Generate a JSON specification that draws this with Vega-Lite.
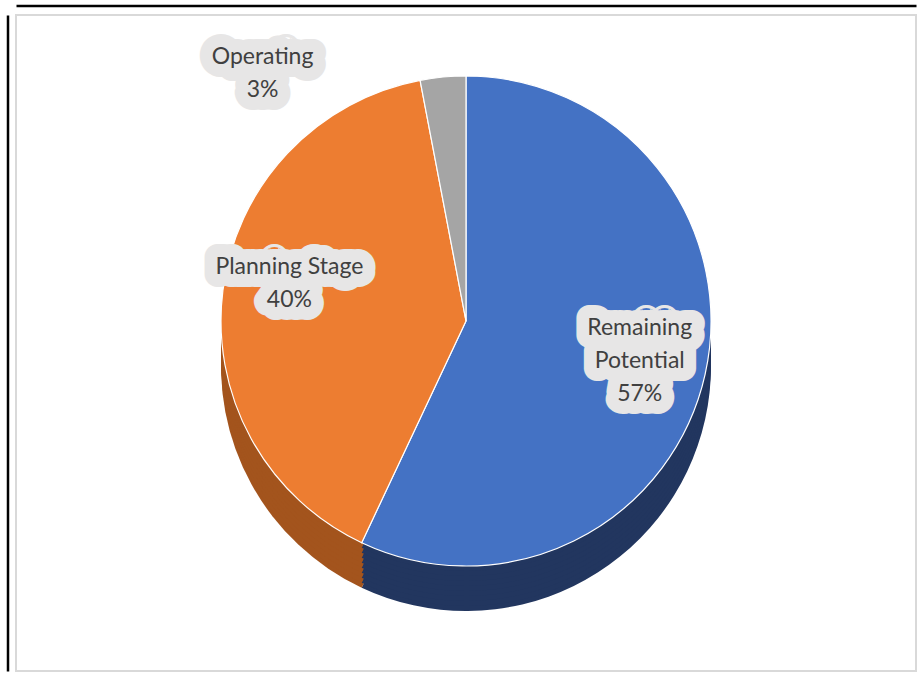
{
  "$schema": "https://vega.github.io/schema/vega-lite/v6.json",
  "autosize": "none",
  "width": 900,
  "height": 656,
  "padding": {"left": 16, "top": 15, "right": 1, "bottom": 7},
  "background": "white",
  "config": {"view": {"stroke": "#d9d9d9", "strokeWidth": 2}},
  "data": {"values": [
    {"status": "Remaining Potential", "share": 57, "label": "Remaining\nPotential\n57%"},
    {"status": "Planning Stage", "share": 40, "label": "Planning Stage\n40%"},
    {"status": "Operating", "share": 3, "label": "Operating\n3%"}
  ]},
  "encoding": {
    "theta": {"field": "share", "type": "quantitative", "stack": true},
    "order": {"field": "share", "sort": "descending"}
  },
  "layer": [
    {"mark": {"type": "point", "opacity": 0},
     "encoding": {"theta": null, "order": null,
       "x": {"field": "share", "type": "quantitative", "axis": {"orient": "top", "offset": 9.5, "domainColor": "black", "domainWidth": 2.5, "ticks": false, "labels": false, "grid": false, "title": null}},
       "y": {"field": "share", "type": "quantitative", "axis": {"orient": "left", "offset": 8.5, "domainColor": "black", "domainWidth": 2.5, "ticks": false, "labels": false, "grid": false, "title": null}}}},
    {"mark": {"type": "arc", "outerRadius": 245, "yOffset": 23}, "encoding": {"fill": {"field": "status", "type": "nominal", "legend": null, "scale": {"domain": ["Remaining Potential", "Planning Stage", "Operating"], "range": ["#22365f", "#a3541d", "#6f6f6f"]}}}},
    {"mark": {"type": "arc", "outerRadius": 245, "yOffset": 18}, "encoding": {"fill": {"field": "status", "type": "nominal", "legend": null}}},
    {"mark": {"type": "arc", "outerRadius": 245, "yOffset": 13}, "encoding": {"fill": {"field": "status", "type": "nominal", "legend": null}}},
    {"mark": {"type": "arc", "outerRadius": 245, "yOffset": 8}, "encoding": {"fill": {"field": "status", "type": "nominal", "legend": null}}},
    {"mark": {"type": "arc", "outerRadius": 245, "yOffset": 3}, "encoding": {"fill": {"field": "status", "type": "nominal", "legend": null}}},
    {"mark": {"type": "arc", "outerRadius": 245, "yOffset": -2}, "encoding": {"fill": {"field": "status", "type": "nominal", "legend": null}}},
    {"mark": {"type": "arc", "outerRadius": 245, "yOffset": -7}, "encoding": {"fill": {"field": "status", "type": "nominal", "legend": null}}},
    {"mark": {"type": "arc", "outerRadius": 245, "yOffset": -12}, "encoding": {"fill": {"field": "status", "type": "nominal", "legend": null}}},
    {"mark": {"type": "arc", "outerRadius": 245, "yOffset": -17}, "encoding": {"fill": {"field": "status", "type": "nominal", "legend": null}}},
    {"mark": {"type": "arc", "outerRadius": 245, "yOffset": -22, "stroke": "white", "strokeWidth": 1.2}, "encoding": {"color": {"field": "status", "type": "nominal", "legend": null, "scale": {"domain": ["Remaining Potential", "Planning Stage", "Operating"], "range": ["#4472C4", "#ED7D31", "#A5A5A5"]}}}},
    {"transform": [{"filter": "datum.status !== 'Operating'"}], "mark": {"type": "text", "radius": 178, "dy": -54, "font": "Lato", "fontSize": 23, "lineHeight": 33, "lineBreak": "\n", "fill": "#e7e6e6", "stroke": "#e7e6e6", "strokeWidth": 26, "strokeJoin": "round"}, "encoding": {"text": {"field": "label"}}},
    {"transform": [{"filter": "datum.status !== 'Operating'"}], "mark": {"type": "text", "radius": 178, "dy": -54, "font": "Lato", "fontSize": 23, "lineHeight": 33, "lineBreak": "\n", "fill": "#e7e6e6", "stroke": "#e7e6e6", "strokeWidth": 14, "strokeJoin": "round"}, "encoding": {"text": {"field": "label"}}},
    {"transform": [{"filter": "datum.status !== 'Operating'"}], "mark": {"type": "text", "radius": 178, "dy": -54, "font": "Lato", "fontSize": 23, "lineHeight": 33, "lineBreak": "\n", "fill": "#404040"}, "encoding": {"text": {"field": "label"}}},
    {"transform": [{"filter": "datum.status === 'Operating'"}], "mark": {"type": "text", "radius": 250, "dy": -37, "dx": -227, "font": "Lato", "fontSize": 23, "lineHeight": 33, "lineBreak": "\n", "fill": "#e7e6e6", "stroke": "#e7e6e6", "strokeWidth": 26, "strokeJoin": "round"}, "encoding": {"text": {"field": "label"}}},
    {"transform": [{"filter": "datum.status === 'Operating'"}], "mark": {"type": "text", "radius": 250, "dy": -37, "dx": -227, "font": "Lato", "fontSize": 23, "lineHeight": 33, "lineBreak": "\n", "fill": "#e7e6e6", "stroke": "#e7e6e6", "strokeWidth": 14, "strokeJoin": "round"}, "encoding": {"text": {"field": "label"}}},
    {"transform": [{"filter": "datum.status === 'Operating'"}], "mark": {"type": "text", "radius": 250, "dy": -37, "dx": -227, "font": "Lato", "fontSize": 23, "lineHeight": 33, "lineBreak": "\n", "fill": "#404040"}, "encoding": {"text": {"field": "label"}}}
  ]
}
